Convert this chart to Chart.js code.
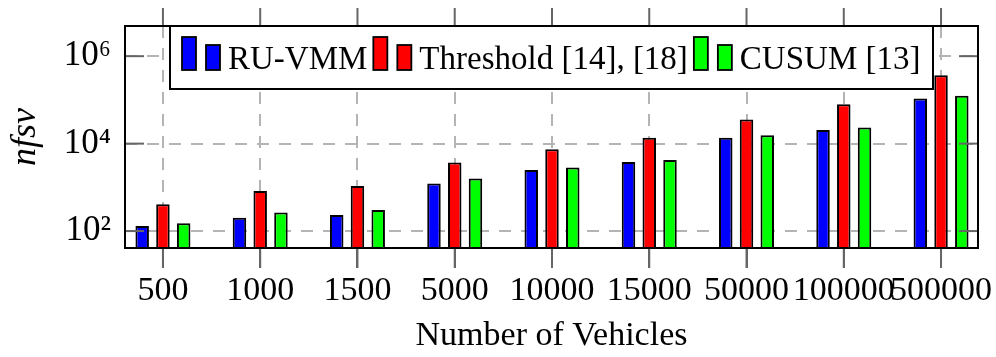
<!DOCTYPE html>
<html><head><meta charset="utf-8">
<script src="https://cdn.jsdelivr.net/npm/chart.js@4"></script>
<style>html,body{margin:0;padding:0;background:#fff}#wrap{width:996px;height:357px}</style>
</head><body><div id="wrap"><canvas id="c" width="996" height="357"></canvas></div>
<script>
const categories = ['500','1000','1500','5000','10000','15000','50000','100000','500000'];
const ruVmm     = [130, 201, 232, 1230, 2480, 3780, 13600, 20400, 108000];
const threshold = [410, 820, 1070, 3710, 7480, 13600, 35700, 80000, 368000];
const cusum     = [150, 267, 302, 1590, 2860, 4200, 15600, 23400, 124000];
const yTickValues = [1e2, 1e4, 1e6];
const yTickLabels = ['10²', '10⁴', '10⁶'];
const seriesNames = ['RU-VMM', 'Threshold [14], [18]', 'CUSUM [13]'];
const seriesColors = ['#0000ff', '#ff0000', '#00ff00'];
const xTitle = 'Number of Vehicles';
const yTitle = 'nfsv';

const FONT = "'Liberation Serif','Times New Roman',serif";
const series = [ruVmm, threshold, cusum];

const frame = {
  id: 'frame',
  afterDatasetsDraw(chart) {
    const {ctx, chartArea: a, scales: {x, y}} = chart;
    ctx.save();
    ctx.strokeStyle = '#666';
    ctx.lineWidth = 2;
    ctx.setLineDash([]);
    const line = (x1, y1, x2, y2) => { ctx.beginPath(); ctx.moveTo(x1, y1); ctx.lineTo(x2, y2); ctx.stroke(); };
    yTickValues.forEach(v => {
      const py = y.getPixelForValue(v);
      line(a.left, py, a.left + 19, py);
      line(a.right - 19, py, a.right, py);
    });
    categories.forEach((c, i) => {
      const px = x.getPixelForValue(i);
      line(px, a.top - 18, px, a.top);
      line(px, a.bottom, px, a.bottom + 20);
    });
    ctx.strokeStyle = '#000';
    ctx.lineWidth = 2;
    ctx.strokeRect(a.left, a.top, a.right - a.left, a.bottom - a.top);
    ctx.restore();
  },
  afterDraw(chart) {
    const {ctx, chartArea: a} = chart;
    ctx.save();
    const L = 170, T = a.top, R = 933, B = a.top + 63;
    ctx.fillStyle = '#fff';
    ctx.fillRect(L, T, R - L, B - T);
    ctx.strokeStyle = '#000';
    ctx.lineWidth = 2;
    ctx.strokeRect(L, T, R - L, B - T);
    ctx.font = '33px ' + FONT;
    ctx.textBaseline = 'alphabetic';
    let cx = L + 12;
    const base = T + 44;
    seriesNames.forEach((name, k) => {
      ctx.fillStyle = seriesColors[k];
      ctx.lineWidth = 1.8;
      ctx.fillRect(cx, base - 33, 14, 33); ctx.strokeRect(cx, base - 33, 14, 33);
      cx += 24;
      ctx.fillRect(cx, base - 25, 14, 25); ctx.strokeRect(cx, base - 25, 14, 25);
      cx += 22;
      ctx.fillStyle = '#000';
      ctx.fillText(name, cx, base - 1);
      cx += ctx.measureText(name).width + 6;
    });
    ctx.restore();
  }
};

new Chart(document.getElementById('c'), {
  type: 'bar',
  data: {
    datasets: series.map((d, k) => ({
      label: seriesNames[k],
      data: d.map((v, i) => ({x: i, y: v})),
      backgroundColor: seriesColors[k],
      borderColor: '#000',
      borderWidth: 2,
      borderSkipped: 'start',
      categoryPercentage: 0.64,
      barPercentage: 0.65
    }))
  },
  options: {
    responsive: false,
    animation: false,
    devicePixelRatio: 1,
    layout: {padding: {left: 0, right: 18, top: 26, bottom: 0}},
    plugins: {legend: {display: false}, tooltip: {enabled: false}},
    scales: {
      x: {
        type: 'linear', min: -0.39, max: 8.38, offset: false,
        afterBuildTicks: s => { s.ticks = categories.map((_, i) => ({value: i})); },
        afterFit: s => { s.height = 109; s.paddingLeft = 0; s.paddingRight = 0; },
        ticks: {callback: v => categories[v], font: {family: FONT, size: 34}, color: '#000', padding: 3, maxRotation: 0, autoSkip: false},
        grid: {offset: false, color: '#b4b4b4', lineWidth: 2, tickLength: 20, tickColor: '#666', tickWidth: 2, tickBorderDash: []},
        border: {display: false, dash: [12, 10]},
        title: {display: true, text: xTitle, font: {family: FONT, size: 34}, color: '#000', padding: {top: 0, bottom: 1}}
      },
      y: {
        type: 'logarithmic', min: 41, max: 4.9e6,
        afterBuildTicks: s => { s.ticks = yTickValues.map(v => ({value: v})); },
        afterFit: s => { s.width = 125; s.paddingTop = 0; s.paddingBottom = 0; },
        ticks: {callback: v => yTickLabels[yTickValues.indexOf(v)], font: {family: FONT, size: 35}, color: '#000', padding: 14},
        grid: {color: '#b4b4b4', lineWidth: 2, drawTicks: false},
        border: {display: false, dash: [12, 10]},
        title: {display: true, text: yTitle, font: {family: FONT, size: 36, style: 'italic'}, color: '#000', padding: {top: 4, bottom: 0}}
      }
    }
  },
  plugins: [frame]
});
</script>
</body></html>
